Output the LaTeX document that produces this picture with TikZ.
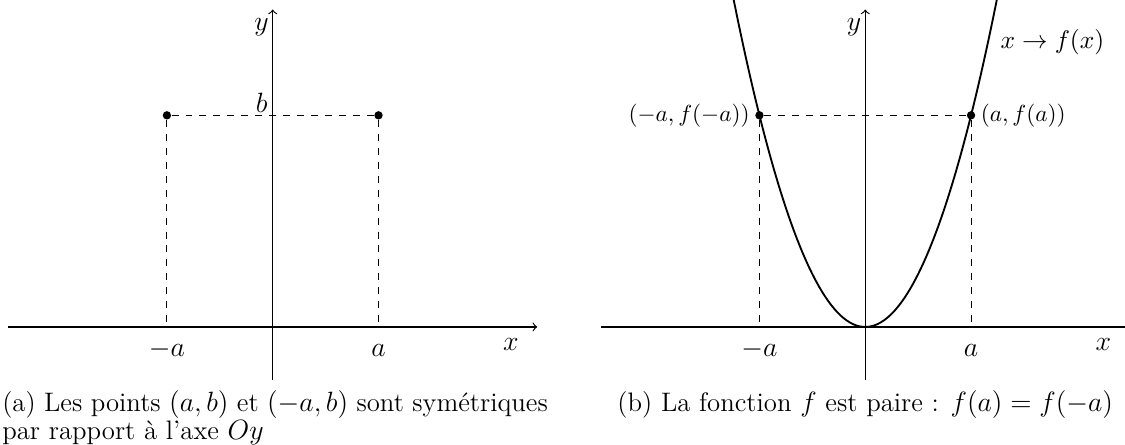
\documentclass[tikz,border=0pt]{standalone}
\usepackage{fontspec}
\begin{document}
\begin{tikzpicture}[
        x=0.8cm, y=0.8cm,
        axis/.style = {line width=0.5pt, ->},
        guide/.style = {dashed, thin},
        curve/.style = {thick},
        dot/.style = {circle, fill=black, inner sep=0pt, minimum size=3.6pt},
        lbl/.style = {font=\large, inner sep=0pt, anchor=base},
        ptlbl/.style = {inner sep=2pt},
        capt/.style = {inner sep=0pt, font=\fontsize{11.5pt}{10.5pt}\selectfont}
    ]
    \useasboundingbox (-5.155,-2.23) rectangle (16.11,6.18);

    % ================= (a) POINTS SYMETRIQUES =================
    \coordinate (xa0) at (-5,0);
    \coordinate (xa1) at (5,0);
    \coordinate (ya0) at (0,-1);
    \coordinate (ya1) at (0,6);
    \draw[axis] (xa0) -- (xa1);
    \draw[axis] (ya0) -- (ya1);
    %
    \node[dot] (pma) at (-2,4) {};
    \node[dot] (pa) at (2,4) {};
    \coordinate (fma) at (-2,0);
    \coordinate (fa) at (2,0);
    \draw[guide] (pma) -- (pa);
    \draw[guide] (pma) -- (fma);
    \draw[guide] (pa) -- (fa);
    %
    \node[lbl] (lma) at (-2,-0.56) {$-a$};
    \node[lbl] (la) at (2,-0.56) {$a$};
    \node[lbl] (lx) at (4.5,-0.45) {$x$};
    \node[lbl] (ly) at (-0.21,5.61) {$y$};
    \node[lbl] (lb) at (-0.21,4.05) {$b$};
    %
    \node[capt, text width=8.25cm, align=justify, anchor=base west] (capa) at (-5.12,-1.6)
        {(a) Les points $(a,b)$ et $(-a,b)$ sont symétriques par rapport à l'axe $Oy$};

    % ================= (b) FONCTION PAIRE =================
    \begin{scope}[xshift=11.2*0.8cm]
    \coordinate (xb0) at (-5,0);
    \coordinate (xb1) at (5,0);
    \coordinate (yb0) at (0,-1);
    \coordinate (yb1) at (0,6);
    \draw[axis] (xb0) -- (xb1);
    \draw[axis] (yb0) -- (yb1);
    %
    \draw[curve] plot[domain=-2.55:2.55, samples=80, smooth] (\x, {\x*\x});
    %
    \node[dot] (qma) at (-2,4) {};
    \node[dot] (qa) at (2,4) {};
    \coordinate (gma) at (-2,0);
    \coordinate (ga) at (2,0);
    \draw[guide] (qma) -- (qa);
    \draw[guide] (qma) -- (gma);
    \draw[guide] (qa) -- (ga);
    %
    \node[ptlbl, anchor=east] (lqma) at (qma.west) {$(-a,f(-a))$};
    \node[ptlbl, anchor=west] (lqa) at (qa.east) {$(a,f(a))$};
    \node[anchor=west, inner sep=0pt, font=\fontsize{10.95pt}{12pt}\selectfont] (lf) at (2.55,5.39) {$x\to f(x)$};
    %
    \node[lbl] (mma) at (-2,-0.56) {$-a$};
    \node[lbl] (ma) at (2,-0.56) {$a$};
    \node[lbl] (mx) at (4.5,-0.45) {$x$};
    \node[lbl] (my) at (-0.21,5.61) {$y$};
    \end{scope}
    %
    \node[capt, anchor=base] (capb) at (11.2,-1.6)
        {(b) La fonction $f$ est paire : $f(a)=f(-a)$};

    \end{tikzpicture}
\end{document}
